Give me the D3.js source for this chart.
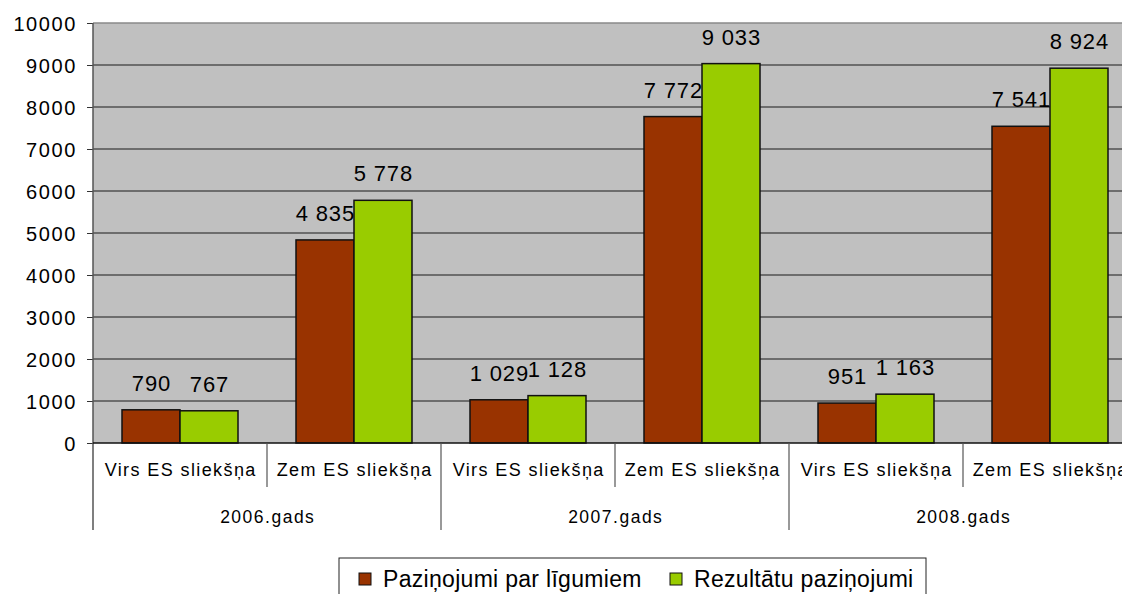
<!DOCTYPE html>
<html>
<head>
<meta charset="utf-8" />
<title>Paziņojumi</title>
<style>
body { margin: 0; background: #fff; }
text { font-family: "Liberation Sans", Arial, sans-serif; fill: #000; }
</style>
</head>
<body>
<div id="graph"></div>
<script src="https://cdnjs.cloudflare.com/ajax/libs/d3/7.8.5/d3.min.js"></script>
<script>
// chart data
var years = ["2006.gads", "2007.gads", "2008.gads"]
var thresholds = ["Virs ES sliekšņa", "Zem ES sliekšņa"]
var seriesNames = ["Paziņojumi par līgumiem", "Rezultātu paziņojumi"]
var contractNotices = [790, 4835, 1029, 7772, 951, 7541]
var awardNotices = [767, 5778, 1128, 9033, 1163, 8924]
var yTicks = [0, 1000, 2000, 3000, 4000, 5000, 6000, 7000, 8000, 9000, 10000]

!(function(){
    "use strict"

    var width = 1122, height = 594
    var margin = {top: 23, left: 93, bottom: 151, right: -15}
    var chartWidth = width - margin.left - margin.right
    var chartHeight = height - margin.top - margin.bottom
    var colors = ["#993300", "#99cc00"]

    var svg = d3.select("#graph").append("svg")
        .attr("width", width).attr("height", height)

    // one row per sub-category
    var rows = []
    years.forEach(function(y, i) {
        thresholds.forEach(function(t, j) {
            var k = i * thresholds.length + j
            rows.push({key: y + "|" + t, year: y, label: t, values: [contractNotices[k], awardNotices[k]]})
        })
    })

    var x0 = d3.scaleBand().domain(rows.map(function(d){ return d.key })).range([0, chartWidth])
    var bw = x0.bandwidth()
    var x1 = d3.scaleBand().domain([0, 1]).range([bw / 6, bw * 5 / 6])
    var y = d3.scaleLinear().domain([0, 10000]).range([chartHeight, 0])

    var g = svg.append("g").attr("transform", "translate(" + [margin.left, margin.top] + ")")

    g.append("rect")
        .attr("width", chartWidth).attr("height", chartHeight)
        .attr("fill", "#c0c0c0")

    // gridlines
    g.append("g").selectAll("line")
        .data(yTicks.filter(function(v){ return v > 0 && v < 10000 }))
        .enter().append("line")
        .attr("x1", 0).attr("x2", chartWidth)
        .attr("y1", function(d){ return y(d) }).attr("y2", function(d){ return y(d) })
        .attr("stroke", "#1a1a1a").attr("stroke-width", 1)

    g.append("line")
        .attr("x1", 0).attr("x2", chartWidth).attr("y1", 0).attr("y2", 0)
        .attr("stroke", "#8a8a8a").attr("stroke-width", 1.5)

    // y axis
    var yAxis = g.append("g")
        .call(d3.axisLeft(y).tickValues(yTicks).tickSize(6).tickFormat(d3.format("d")))
        .attr("font-size", null).attr("font-family", null)
    yAxis.select(".domain").remove()
    yAxis.selectAll(".tick line").attr("stroke", "#333")
    yAxis.selectAll(".tick text")
        .attr("x", -16)
        .attr("dy", "0.36em")
        .style("font-size", "20px")
        .style("letter-spacing", "1.6px")
        .attr("fill", "#000")

    g.append("line")
        .attr("x1", 0).attr("x2", 0).attr("y1", 0).attr("y2", chartHeight + 87)
        .attr("stroke", "#555").attr("stroke-width", 1.5)

    // bars
    var groups = g.append("g").selectAll("g")
        .data(rows).enter().append("g")
        .attr("transform", function(d){ return "translate(" + x0(d.key) + ",0)" })

    groups.selectAll("rect")
        .data(function(d){ return d.values })
        .enter().append("rect")
        .attr("x", function(d, i){ return x1(i) })
        .attr("width", x1.bandwidth())
        .attr("y", function(d){ return y(d) })
        .attr("height", function(d){ return chartHeight - y(d) })
        .attr("fill", function(d, i){ return colors[i] })
        .attr("stroke", "#111").attr("stroke-width", 1.5)

    var fmt = function(v) { return d3.format(",")(v).replace(/,/g, " ") }

    groups.selectAll("text.val")
        .data(function(d){ return d.values })
        .enter().append("text")
        .attr("class", "val")
        .attr("x", function(d, i){ return x1(i) + x1.bandwidth() / 2 + 0.4 })
        .attr("y", function(d){ return y(d) - 19 })
        .attr("text-anchor", "middle")
        .style("font-size", "22px")
        .style("letter-spacing", "0.8px")
        .text(function(d){ return fmt(d) })

    // category axis
    g.append("line")
        .attr("x1", 0).attr("x2", chartWidth).attr("y1", chartHeight).attr("y2", chartHeight)
        .attr("stroke", "#111").attr("stroke-width", 1.5)

    g.append("g").selectAll("line")
        .data(rows.slice(1))
        .enter().append("line")
        .attr("x1", function(d){ return x0(d.key) }).attr("x2", function(d){ return x0(d.key) })
        .attr("y1", chartHeight)
        .attr("y2", function(d, i){ return chartHeight + ((i + 1) % thresholds.length === 0 ? 87 : 44) })
        .attr("stroke", "#555").attr("stroke-width", 1.2)

    g.append("g").selectAll("text")
        .data(rows).enter().append("text")
        .attr("x", function(d){ return x0(d.key) + bw / 2 + 0.7 })
        .attr("y", chartHeight + 33)
        .attr("text-anchor", "middle")
        .style("font-size", "18px")
        .style("letter-spacing", "1.4px")
        .text(function(d){ return d.label })

    g.append("g").selectAll("text")
        .data(years).enter().append("text")
        .attr("x", function(d, i){ return x0(rows[i * 2].key) + bw + 0.75 })
        .attr("y", chartHeight + 80)
        .attr("text-anchor", "middle")
        .style("font-size", "17.5px")
        .style("letter-spacing", "1.5px")
        .text(function(d){ return d })

    // legend
    var legend = svg.append("g").attr("transform", "translate(339,558)")
    legend.append("rect")
        .attr("x", 0).attr("y", 0).attr("width", 587).attr("height", 50)
        .attr("fill", "#fff").attr("stroke", "#222").attr("stroke-width", 1)

    var items = legend.selectAll("g.item")
        .data(seriesNames).enter().append("g")
        .attr("transform", function(d, i){ return "translate(" + (i === 0 ? 20 : 331) + ",0)" })
    items.append("rect")
        .attr("x", 0).attr("y", 15).attr("width", 12).attr("height", 12)
        .attr("fill", function(d, i){ return colors[i] })
        .attr("stroke", "#111").attr("stroke-width", 1)
    items.append("text")
        .attr("x", 24).attr("y", 29)
        .style("font-size", "23px")
        .style("letter-spacing", "0.3px")
        .text(function(d){ return d })
}());
</script>
</body>
</html>
